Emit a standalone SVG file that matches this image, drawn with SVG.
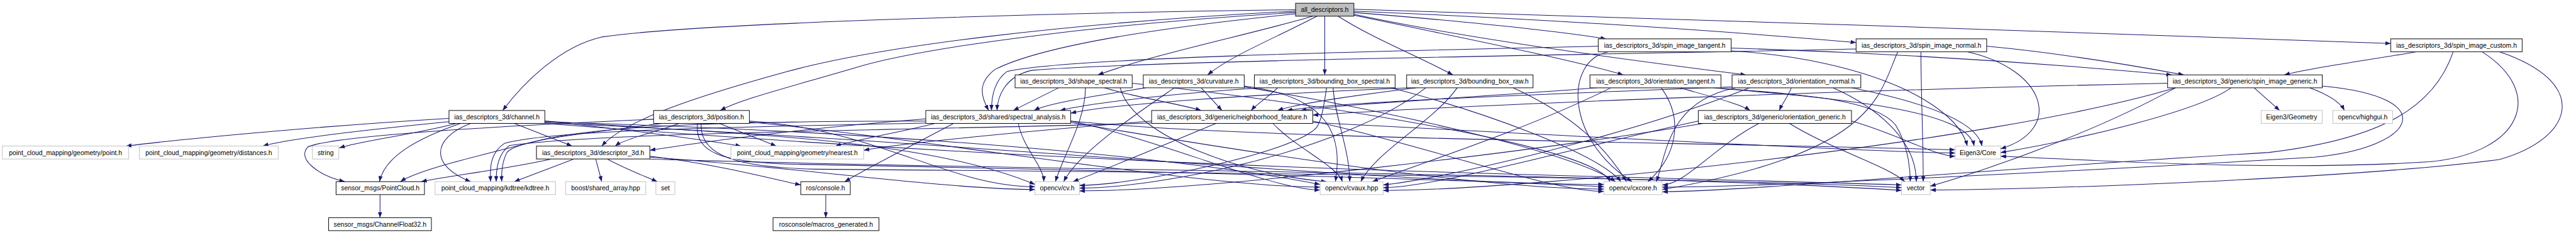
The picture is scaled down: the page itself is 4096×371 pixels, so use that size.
<svg xmlns="http://www.w3.org/2000/svg" width="4096" height="371" viewBox="0 0 4096 371">
<style>
.n rect{fill:#fff;stroke:#000;stroke-width:1.3}
.n.g rect{stroke:#bfbfbf}
.n.d rect{stroke:#404040;stroke-width:1.8}
.n.r rect{fill:#bfbfbf}
.n text{font-family:"Liberation Sans",Arial,sans-serif;font-size:14.2px;fill:#000;text-anchor:middle}
#edges path{fill:none;stroke:#191970;stroke-width:1.4;marker-end:url(#arr)}
</style>
<defs>
<marker id="arr" viewBox="0 0 12 9" refX="12" refY="4.5" markerUnits="userSpaceOnUse" markerWidth="12" markerHeight="9" orient="auto"><path d="M0,0 L12,4.5 L0,9 z" fill="#191970"/></marker>
</defs>
<rect x="0" y="0" width="4096" height="371" fill="#fff"/>
<g transform="scale(0.736)">
<g id="edges">
<path d="M2799,21 C2300,27 1500,50 1300,80 C1210,100 1130,180 1086,239"/>
<path d="M2799,24 C2300,50 1900,100 1700,155 C1500,210 1350,260 1300,316"/>
<path d="M2799,27 C2400,50 2000,100 1846,147 C1700,190 1600,215 1556,239"/>
<path d="M2799,30 C2500,60 2250,100 2150,150 C2110,180 2120,210 2136,239"/>
<path d="M2836,35 C2700,75 2500,115 2372,162"/>
<path d="M2845,35 C2760,80 2660,120 2609,162"/>
<path d="M2862,35 L2862,162"/>
<path d="M2891,35 C2960,80 3060,120 3139,162"/>
<path d="M2925,33 C3150,80 3400,130 3507,162"/>
<path d="M2925,31 C3200,90 3600,140 3772,162"/>
<path d="M2925,27 C3150,45 3350,65 3470,84"/>
<path d="M2925,24 C3300,40 3700,65 4010,92"/>
<path d="M2925,20 C3600,40 4500,70 5165,94"/>
<path d="M3453,100 C3000,110 2300,125 2175,155 C2148,175 2142,210 2142,239"/>
<path d="M3740,104 C4100,115 4450,140 4692,162"/>
<path d="M3740,110 C4050,130 4230,230 4250,316"/>
<path d="M3475,112 C3380,130 3380,300 3526,393"/>
<path d="M4010,106 C3500,118 2500,130 2230,152 C2170,165 2155,210 2154,239"/>
<path d="M4292,100 C4450,115 4600,140 4718,162"/>
<path d="M4250,112 C4420,150 4460,280 4322,322"/>
<path d="M4100,112 C4060,200 4060,330 3591,410"/>
<path d="M4150,112 C4150,200 4155,300 4155,393"/>
<path d="M5220,112 C5120,130 5000,145 4935,162"/>
<path d="M5362,112 C5500,200 5450,330 5250,350 C4900,372 4500,345 4322,338"/>
<path d="M5300,112 C5260,230 5150,300 4900,330 C4300,365 3800,412 3591,415"/>
<path d="M5400,112 C5600,180 5560,300 5400,345 C5100,385 4400,411 4170,411"/>
<path d="M4870,190 L4925,239"/>
<path d="M4990,190 C5030,205 5055,220 5065,239"/>
<path d="M4683,180 C4000,195 3200,225 2836,249"/>
<path d="M4820,190 C4750,240 4500,300 4322,330"/>
<path d="M4700,190 C4500,300 4250,380 4170,403"/>
<path d="M5017,186 C5280,210 5220,320 5000,340 C4500,370 3800,405 3591,405"/>
<path d="M4700,190 C4300,310 3300,412 2988,412"/>
<path d="M3629,190 C3700,210 3760,225 3781,239"/>
<path d="M3450,190 C3200,210 2900,225 2810,239"/>
<path d="M3700,190 C4000,215 4250,240 4265,316"/>
<path d="M3480,190 C3300,280 3050,360 2965,393"/>
<path d="M3589,190 C3640,260 3620,340 3560,393"/>
<path d="M3705,190 C3900,205 4050,215 4095,270 C4120,310 4127,360 4127,393"/>
<path d="M3870,190 C3862,210 3850,225 3844,239"/>
<path d="M3745,188 C3300,205 2900,220 2780,239"/>
<path d="M4000,190 C4150,220 4270,260 4282,316"/>
<path d="M3780,190 C3500,300 3100,390 2988,400"/>
<path d="M3750,190 C3600,220 3600,340 3578,393"/>
<path d="M3960,190 C4050,230 4140,300 4140,393"/>
<path d="M4000,262 C4100,290 4180,338 4224,338"/>
<path d="M3866,267 C3950,320 4080,360 4115,393"/>
<path d="M3800,267 C3700,320 3640,400 3591,400"/>
<path d="M3669,262 C3400,320 3100,406 2988,406"/>
<path d="M3680,267 C3300,330 2600,413 2332,413"/>
<path d="M2725,190 C2500,205 2350,225 2290,239"/>
<path d="M2760,190 C2740,210 2715,225 2703,239"/>
<path d="M2866,190 C2860,230 2855,260 2845,275 C2800,330 2450,401 2332,401"/>
<path d="M2880,190 C2885,260 2915,320 2916,393"/>
<path d="M3005,190 C3200,240 3450,330 3502,393"/>
<path d="M3045,190 C2700,205 2400,225 2313,245"/>
<path d="M3060,190 C2900,210 2800,225 2760,239"/>
<path d="M3080,190 C2900,330 2500,407 2332,407"/>
<path d="M3148,190 C3100,260 2970,330 2940,393"/>
<path d="M3269,190 C3400,250 3470,320 3514,393"/>
<path d="M2475,190 C2350,210 2260,225 2234,239"/>
<path d="M2595,190 L2640,239"/>
<path d="M2537,190 C2450,250 2330,330 2298,393"/>
<path d="M2688,186 C2880,210 2900,300 2885,393"/>
<path d="M2688,188 C3000,240 3400,330 3490,393"/>
<path d="M2287,190 L2189,239"/>
<path d="M2386,190 C2450,210 2550,225 2595,239"/>
<path d="M2345,190 C2345,260 2300,330 2280,393"/>
<path d="M2420,190 C2450,300 2700,380 2866,393"/>
<path d="M2446,180 C2900,230 3450,320 3478,393"/>
<path d="M2000,257 C1700,280 1500,310 1404,325"/>
<path d="M2000,262 C1600,262 1300,270 1160,305 C1000,345 900,370 865,393"/>
<path d="M2005,266 C1600,275 1200,280 1090,310 C1060,330 1058,360 1060,393"/>
<path d="M2020,267 C1950,285 1860,300 1805,316"/>
<path d="M2060,267 C1980,310 1880,360 1825,393"/>
<path d="M2200,267 C2210,320 2255,360 2255,393"/>
<path d="M2313,262 C2500,300 2750,411 2852,411"/>
<path d="M2313,265 C2700,330 3200,409 3465,409"/>
<path d="M2313,262 C2700,300 3500,305 4224,324"/>
<path d="M2490,266 C2000,282 1300,285 1100,315 C1075,335 1072,365 1072,393"/>
<path d="M2488,262 C2200,285 1950,310 1866,325"/>
<path d="M2627,267 C2500,320 2380,370 2318,393"/>
<path d="M2750,267 C2800,320 2890,360 2900,393"/>
<path d="M2836,262 C3100,320 3350,414 3465,414"/>
<path d="M2836,265 C3500,300 4100,331 4224,331"/>
<path d="M970,256 C700,272 400,300 272,316"/>
<path d="M973,263 C800,280 620,300 568,316"/>
<path d="M986,267 C900,290 780,305 733,320"/>
<path d="M995,267 C900,300 830,340 820,393"/>
<path d="M1017,267 C930,300 930,360 1017,393"/>
<path d="M1111,267 L1236,316"/>
<path d="M1177,262 C1350,280 1500,300 1601,316"/>
<path d="M1177,262 C1600,290 2000,300 2236,399"/>
<path d="M1177,264 C1800,280 2500,330 2852,399"/>
<path d="M1177,266 C2000,300 3000,399 3465,399"/>
<path d="M1177,267 C2500,370 3300,375 4108,400"/>
<path d="M1412,258 C1100,272 720,292 665,318 C640,345 690,380 745,393"/>
<path d="M1430,267 C1300,285 1120,300 1095,330 C1085,350 1083,375 1084,393"/>
<path d="M1467,267 C1420,285 1350,300 1329,316"/>
<path d="M1554,267 L1677,316"/>
<path d="M1619,262 C1900,280 2050,404 2236,404"/>
<path d="M1619,264 C2000,300 2600,405 2852,405"/>
<path d="M1507,267 C1500,330 1560,350 1700,355 C2500,370 3200,390 3465,404"/>
<path d="M1515,267 C1510,340 1600,362 1760,366 C2800,374 3800,388 4108,406"/>
<path d="M1191,344 C1100,365 960,382 910,393"/>
<path d="M1240,344 L1111,393"/>
<path d="M1287,344 L1300,393"/>
<path d="M1312,344 C1350,365 1390,380 1420,393"/>
<path d="M1404,338 C1550,355 1680,390 1730,400"/>
<path d="M1404,340 C1700,360 2050,410 2236,410"/>
<path d="M1404,344 C2200,370 3500,372 4108,412"/>
<path d="M821,421 L821,471"/>
<path d="M1784,421 L1784,471"/>
</g>
<g id="n-all_descriptors" class="n r"><rect x="2799" y="7" width="126" height="28"/><text x="2862" y="26">all_descriptors.h</text></g>
<g id="n-spin_image_tangent" class="n d"><rect x="3453" y="84" width="287" height="28"/><text x="3596.5" y="103">ias_descriptors_3d/spin_image_tangent.h</text></g>
<g id="n-spin_image_normal" class="n d"><rect x="4010" y="84" width="282" height="28"/><text x="4151" y="103">ias_descriptors_3d/spin_image_normal.h</text></g>
<g id="n-spin_image_custom" class="n d"><rect x="5165" y="84" width="284" height="28"/><text x="5307" y="103">ias_descriptors_3d/spin_image_custom.h</text></g>
<g id="n-shape_spectral" class="n"><rect x="2193" y="162" width="253" height="28"/><text x="2319.5" y="181">ias_descriptors_3d/shape_spectral.h</text></g>
<g id="n-curvature" class="n"><rect x="2470" y="162" width="218" height="28"/><text x="2579" y="181">ias_descriptors_3d/curvature.h</text></g>
<g id="n-bounding_box_spectral" class="n"><rect x="2710" y="162" width="304" height="28"/><text x="2862" y="181">ias_descriptors_3d/bounding_box_spectral.h</text></g>
<g id="n-bounding_box_raw" class="n"><rect x="3039" y="162" width="273" height="28"/><text x="3175.5" y="181">ias_descriptors_3d/bounding_box_raw.h</text></g>
<g id="n-orientation_tangent" class="n d"><rect x="3435" y="162" width="283" height="28"/><text x="3576.5" y="181">ias_descriptors_3d/orientation_tangent.h</text></g>
<g id="n-orientation_normal" class="n d"><rect x="3742" y="162" width="278" height="28"/><text x="3881" y="181">ias_descriptors_3d/orientation_normal.h</text></g>
<g id="n-spin_image_generic" class="n"><rect x="4683" y="162" width="334" height="28"/><text x="4850" y="181">ias_descriptors_3d/generic/spin_image_generic.h</text></g>
<g id="n-channel" class="n"><rect x="970" y="239" width="207" height="28"/><text x="1073.5" y="258">ias_descriptors_3d/channel.h</text></g>
<g id="n-position" class="n"><rect x="1412" y="239" width="207" height="28"/><text x="1515.5" y="258">ias_descriptors_3d/position.h</text></g>
<g id="n-spectral_analysis" class="n"><rect x="2000" y="239" width="313" height="28"/><text x="2156.5" y="258">ias_descriptors_3d/shared/spectral_analysis.h</text></g>
<g id="n-neighborhood_feature" class="n"><rect x="2488" y="239" width="348" height="28"/><text x="2662" y="258">ias_descriptors_3d/generic/neighborhood_feature.h</text></g>
<g id="n-orientation_generic" class="n"><rect x="3669" y="239" width="331" height="28"/><text x="3834.5" y="258">ias_descriptors_3d/generic/orientation_generic.h</text></g>
<g id="n-eigen_geometry" class="n g"><rect x="4885" y="239" width="132" height="28"/><text x="4951" y="258">Eigen3/Geometry</text></g>
<g id="n-highgui" class="n g"><rect x="5040" y="239" width="129" height="28"/><text x="5104.5" y="258">opencv/highgui.h</text></g>
<g id="n-point" class="n g"><rect x="5" y="316" width="273" height="28"/><text x="141.5" y="335">point_cloud_mapping/geometry/point.h</text></g>
<g id="n-distances" class="n g"><rect x="301" y="316" width="300" height="28"/><text x="451" y="335">point_cloud_mapping/geometry/distances.h</text></g>
<g id="n-string" class="n g"><rect x="675" y="316" width="57" height="28"/><text x="703.5" y="335">string</text></g>
<g id="n-descriptor_3d" class="n d"><rect x="1159" y="316" width="245" height="28"/><text x="1281.5" y="335">ias_descriptors_3d/descriptor_3d.h</text></g>
<g id="n-nearest" class="n g"><rect x="1579" y="316" width="287" height="28"/><text x="1722.5" y="335">point_cloud_mapping/geometry/nearest.h</text></g>
<g id="n-eigen_core" class="n g"><rect x="4224" y="316" width="98" height="28"/><text x="4273" y="335">Eigen3/Core</text></g>
<g id="n-pointcloud" class="n"><rect x="726" y="393" width="191" height="28"/><text x="821.5" y="412">sensor_msgs/PointCloud.h</text></g>
<g id="n-kdtree" class="n g"><rect x="940" y="393" width="260" height="28"/><text x="1070" y="412">point_cloud_mapping/kdtree/kdtree.h</text></g>
<g id="n-shared_array" class="n g"><rect x="1222" y="393" width="173" height="28"/><text x="1308.5" y="412">boost/shared_array.hpp</text></g>
<g id="n-set" class="n g"><rect x="1417" y="393" width="41" height="28"/><text x="1437.5" y="412">set</text></g>
<g id="n-console" class="n"><rect x="1730" y="393" width="107" height="28"/><text x="1783.5" y="412">ros/console.h</text></g>
<g id="n-cv" class="n g"><rect x="2236" y="393" width="96" height="28"/><text x="2284" y="412">opencv/cv.h</text></g>
<g id="n-cvaux" class="n g"><rect x="2852" y="393" width="136" height="28"/><text x="2920" y="412">opencv/cvaux.hpp</text></g>
<g id="n-cxcore" class="n g"><rect x="3465" y="393" width="126" height="28"/><text x="3528" y="412">opencv/cxcore.h</text></g>
<g id="n-vector" class="n g"><rect x="4108" y="393" width="62" height="28"/><text x="4139" y="412">vector</text></g>
<g id="n-channelfloat32" class="n"><rect x="710" y="471" width="222" height="28"/><text x="821" y="490">sensor_msgs/ChannelFloat32.h</text></g>
<g id="n-macros_generated" class="n"><rect x="1670" y="471" width="229" height="28"/><text x="1784.5" y="490">rosconsole/macros_generated.h</text></g>
</g>
</svg>
